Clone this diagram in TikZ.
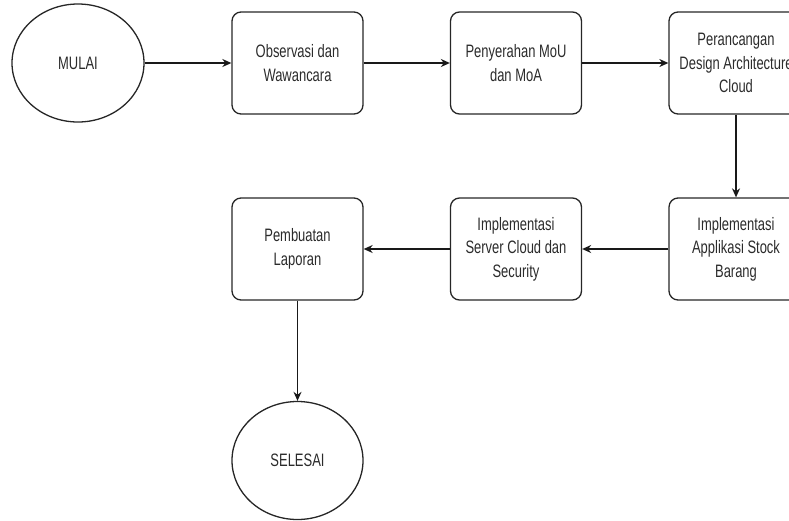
\documentclass[tikz,border=0pt]{standalone}
\usepackage{fontspec}
\setmainfont{Liberation Sans}[FakeStretch=0.72]
\usetikzlibrary{arrows.meta,shapes.geometric}
\definecolor{txt}{HTML}{2B2B2B}
\tikzset{
  base/.style={draw=black!85, line width=1.3pt, text=txt, font=\fontsize{18}{23.4}\selectfont, align=center, inner sep=0pt},
  procbox/.style={base, rectangle, rounded corners=9pt, minimum width=131pt, minimum height=102pt},
  term/.style={base, ellipse, minimum width=132pt, minimum height=118pt},
  flow/.style={draw=black!90, line width=1.3pt, -{Stealth[length=9pt,width=8pt]}},
}
\begin{document}
\begin{tikzpicture}[x=1pt,y=-1pt]
\useasboundingbox (0,0) rectangle (789,520);
\clip (0,0) rectangle (789,520);
\node[term] (mulai) at (78,63) {MULAI};
\node[procbox] (obs) at (297.5,63) {Observasi dan\\Wawancara};
\node[procbox] (mou) at (516,63) {Penyerahan MoU\\dan MoA};
\node[procbox, minimum width=134pt] (design) at (736,63) {Perancangan\\Design Architecture\\Cloud};
\node[procbox, minimum width=134pt] (app) at (736,249) {Implementasi\\Applikasi Stock\\Barang};
\node[procbox] (server) at (516,249) {Implementasi\\Server Cloud dan\\Security};
\node[procbox] (lapor) at (297.5,249) {Pembuatan\\Laporan};
\node[term, minimum width=131pt] (selesai) at (297.5,460.5) {SELESAI};
\draw[flow] (mulai) -- (obs);
\draw[flow] (obs) -- (mou);
\draw[flow] (mou) -- (design);
\draw[flow] (design) -- (app);
\draw[flow] (app) -- (server);
\draw[flow] (server) -- (lapor);
\draw[flow] (lapor) -- (selesai);
\end{tikzpicture}
\end{document}
